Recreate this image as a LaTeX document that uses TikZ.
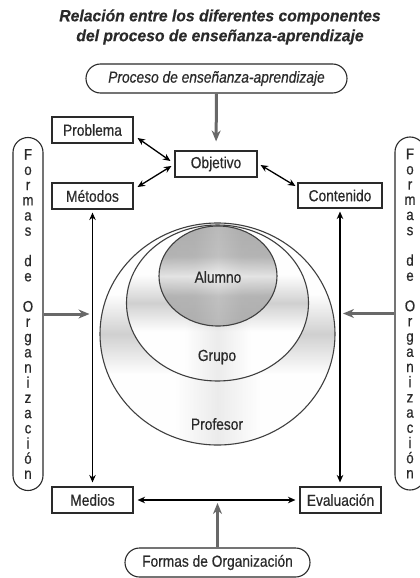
\documentclass[tikz,border=0pt]{standalone}
\usepackage{fontspec}
\setmainfont{Liberation Sans}[FakeStretch=0.86,FakeBold=0.5]
\newfontfamily\titlefont{Liberation Sans}[FakeStretch=0.97,FakeBold=0.4]
\usetikzlibrary{arrows.meta,calc}
\pgfdeclarehorizontalshading{darkband}{100bp}{color(0bp)=(white); color(41bp)=(white); color(50bp)=(gray!60); color(59bp)=(white); color(100bp)=(white)}
\pgfdeclarehorizontalshading{lightband}{100bp}{color(0bp)=(gray!60); color(25bp)=(gray!65); color(40bp)=(gray!58); color(50bp)=(gray!8); color(60bp)=(gray!58); color(75bp)=(gray!65); color(100bp)=(gray!60)}
\definecolor{ink}{HTML}{2A2A2A}
\definecolor{arrowgray}{HTML}{686868}
\tikzset{
  box/.style={draw=ink, line width=1.1pt, minimum width=81pt, minimum height=26pt, inner sep=0pt, text=ink, font=\fontsize{16}{18}\selectfont},
  pill/.style={draw=ink, line width=1.1pt, rounded corners=14.5pt, minimum height=29pt, inner sep=0pt, text=ink, font=\fontsize{16}{18}\selectfont},
  vpill/.style={draw=ink, line width=1.1pt, rounded corners=15pt, minimum width=30pt, minimum height=353pt, inner sep=0pt, text=ink, align=center, font=\fontsize{15.5}{15.2}\selectfont},
  dbl/.style={draw=black, line width=1.3pt, {Stealth[length=7.5pt,width=6.5pt]}-{Stealth[length=7.5pt,width=6.5pt]}},
  bigarrow/.style={draw=arrowgray, line width=3pt, -{Stealth[length=11pt,width=9pt]}},
  lbl/.style={text=ink, font=\fontsize{16}{18}\selectfont},
  ring/.style={draw=ink!90, line width=1.1pt},
  titletext/.style={text=ink, font=\titlefont\bfseries\itshape\fontsize{16.2}{18}\selectfont}
}
\begin{document}
\begin{tikzpicture}[x=1pt,y=-1pt]
\useasboundingbox (0,0) rectangle (420,578);
% title
\node[titletext] (t1) at (220,17) {Relación entre los diferentes componentes};
\node[titletext] (t2) at (220,37) {del proceso de enseñanza-aprendizaje};
% ellipses
\begin{scope}
  \clip (217.5,334) ellipse [x radius=117.5pt, y radius=111pt];
  \fill[gray!4] (100,223) rectangle (335,445);
  \shade[shading=darkband, opacity=0.6] (100,223) rectangle (335,445);
  \shade[shading=darkband, shading angle=90, opacity=0.6] (100,223) rectangle (335,445);
\end{scope}
\draw[ring] (217.5,334) ellipse [x radius=117.5pt, y radius=111pt];
\begin{scope}
  \clip (217.5,303) ellipse [x radius=91pt, y radius=78pt];
  \fill[gray!4] (126.5,225) rectangle (308.5,381);
  \shade[shading=darkband, opacity=0.6] (126.5,225) rectangle (308.5,381);
  \shade[shading=darkband, shading angle=90, opacity=0.6] (126.5,225) rectangle (308.5,381);
\end{scope}
\draw[ring] (217.5,303) ellipse [x radius=91pt, y radius=78pt];
\begin{scope}
  \clip (218,276) ellipse [x radius=59pt, y radius=50pt];
  \fill[gray!60] (159,226) rectangle (277,326);
  \shade[shading=lightband, opacity=0.75] (159,226) rectangle (277,326);
  \shade[shading=lightband, shading angle=90, opacity=0.75] (159,226) rectangle (277,326);
\end{scope}
\draw[ring] (218,276) ellipse [x radius=59pt, y radius=50pt];
\node[lbl] (alumno) at (218,277) {Alumno};
\node[lbl] (grupo) at (217,357) {Grupo};
\node[lbl] (profesor) at (217,424) {Profesor};
% boxes
\node[pill, minimum width=261pt] (top) at (216.5,78.5) {\itshape Proceso de enseñanza-aprendizaje};
\node[pill, minimum width=185pt] (bottom) at (217.5,562.5) {Formas de Organización};
\node[box] (problema) at (92.5,130) {Problema};
\node[box] (metodos) at (92.5,196) {Métodos};
\node[box, minimum width=82pt] (objetivo) at (216,164) {Objetivo};
\node[box, minimum width=84pt, minimum height=25pt] (contenido) at (340,195.5) {Contenido};
\node[box] (medios) at (92.5,500) {Medios};
\node[box] (evaluacion) at (340.5,500) {Evaluación};
\node[vpill] (leftv) at (28,314) {F\\o\\r\\m\\a\\s\\[15.2pt]d\\e\\[15.2pt]O\\r\\g\\a\\n\\i\\z\\a\\c\\i\\ó\\n};
\node[vpill] (rightv) at (410,313.5) {F\\o\\r\\m\\a\\s\\[15.2pt]d\\e\\[15.2pt]O\\r\\g\\a\\n\\i\\z\\a\\c\\i\\ó\\n};
% connectors
\draw[bigarrow, shorten >=9pt] (top.south) -- (objetivo.north);
\draw[bigarrow, shorten >=3pt] (bottom.north) -- (bottom.north |- medios.center);
\draw[bigarrow, shorten >=3pt] (leftv.east) -- (leftv.east -| metodos.south);
\draw[bigarrow, shorten >=3pt] (rightv.west) -- (rightv.west -| contenido.south);
\draw[dbl] ([shift={(4,8)}]problema.east) -- ([shift={(-4,-3)}]objetivo.west);
\draw[dbl] ([shift={(4,-9)}]metodos.east) -- ([shift={(-3,2)}]objetivo.west);
\draw[dbl] ([shift={(3,1)}]objetivo.east) -- ([shift={(-2,-9.5)}]contenido.west);
\draw[dbl, shorten <=3pt, shorten >=4pt] (metodos.south) -- (medios.north);
\draw[dbl, shorten <=3pt, shorten >=4pt] (contenido.south) -- (contenido.south |- evaluacion.north);
\draw[dbl, shorten <=4pt, shorten >=4pt] (medios.east) -- (evaluacion.west);
\end{tikzpicture}
\end{document}
